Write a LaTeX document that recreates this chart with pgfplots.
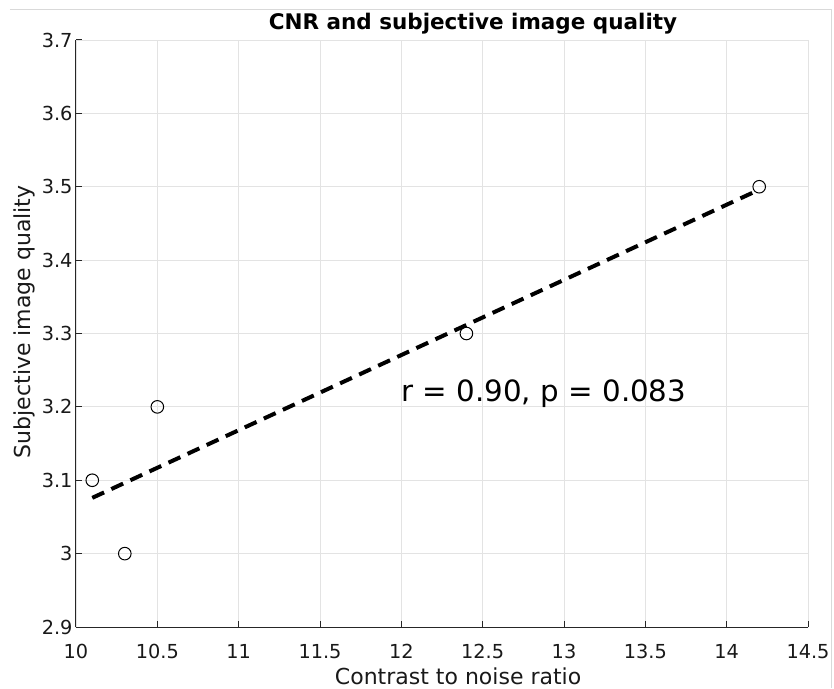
\documentclass[border=0pt]{standalone}
\usepackage{fontspec}
\setmainfont{DejaVu Sans}
\usepackage{pgfplots}
\pgfplotsset{compat=1.18}

\begin{document}
\begin{tikzpicture}
  \begin{axis}[
    at={(0,0)}, anchor=south west,
    scale only axis,
    width=732pt, height=587pt,
    xmin=10, xmax=14.5,
    ymin=2.9, ymax=3.7,
    xtick={10,10.5,...,14.5},
    ytick={2.9,3.0,...,3.7},
    axis lines*=left,
    axis line style={black!85, line width=1pt},
    tick align=inside,
    major tick length=6pt,
    tick style={black!85, line width=1pt},
    grid=major,
    grid style={gray!22, line width=0.9pt},
    ticklabel style={font=\fontsize{19.3}{22}\selectfont, text=black!90},
    /pgf/number format/assume math mode=true,
    xticklabel style={anchor=base, yshift=-31pt},
    every axis title shift=0pt,
    title={\textbf{CNR and subjective image quality}},
    title style={font=\fontsize{21.5}{26}\selectfont, inner sep=0pt,
      at={(axis description cs:0.5423,1.0187)}, anchor=base},
    xlabel={Contrast to noise ratio},
    ylabel={Subjective image quality},
    label style={font=\fontsize{22}{26}\selectfont, text=black!90, inner sep=0pt},
    xlabel style={at={(axis description cs:0.522,-0.0971)}, anchor=base},
    ylabel style={at={(axis description cs:-0.0615,0.52)}, anchor=base, rotate=0},
  ]
    % fitted regression line
    \addplot[black, line width=4pt, dash pattern=on 13pt off 8pt] coordinates {
      (10.1, 3.076)
      (14.2, 3.496)
    };
    % observed values
    \addplot[only marks, mark=o, mark size=6.3pt, black, line width=1pt] coordinates {
      (10.1, 3.1)
      (10.3, 3.0)
      (10.5, 3.2)
      (12.4, 3.3)
      (14.2, 3.5)
    };
    \node[anchor=base west, font=\fontsize{29.3}{32}\selectfont, inner sep=0pt]
      at (axis cs:12.0,3.207) {r = 0.90, p = 0.083};
  \end{axis}
  \draw[gray!30, line width=1pt] (-66pt,617pt) -- (755pt,617pt) -- (755pt,-61pt);
  \pgfresetboundingbox
  \path (-76pt,-61pt) rectangle (758pt,627pt);
\end{tikzpicture}
\end{document}
